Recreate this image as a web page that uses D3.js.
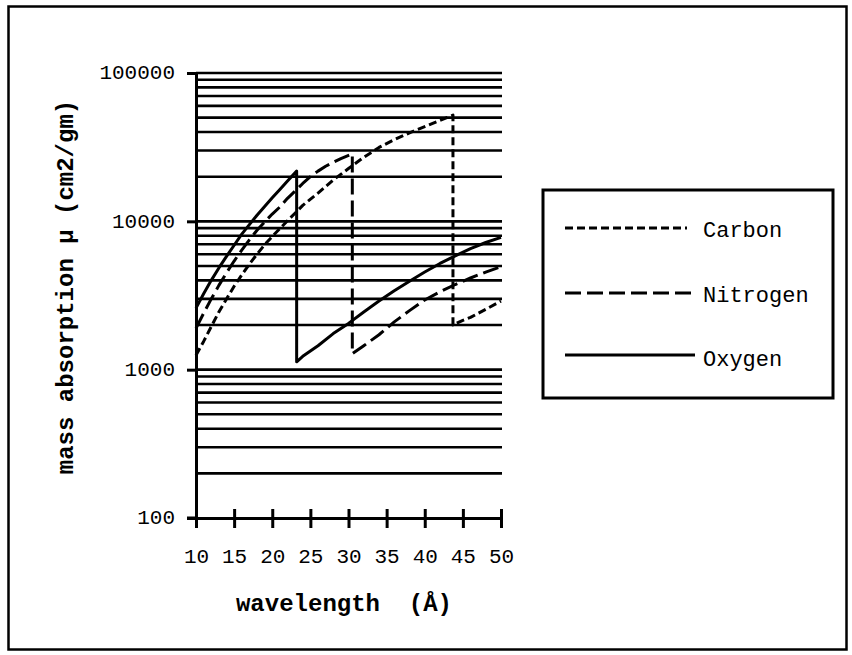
<!DOCTYPE html>
<html>
<head>
<meta charset="utf-8">
<script src="https://cdn.jsdelivr.net/npm/d3@7"></script>
<style>
  html, body { margin: 0; padding: 0; background: #fff; }
  svg { display: block; }
  text { fill: #000; }
</style>
</head>
<body>
<svg id="chart" width="852" height="655"></svg>
<script>
// ---- data ----
const wavelengthTicks = [10, 15, 20, 25, 30, 35, 40, 45, 50];
const absorptionTicks = [100, 1000, 10000, 100000];

const carbonX = [10, 11, 12, 13, 14, 15, 16, 17, 18, 19, 20, 22, 24, 26, 28, 30, 32, 34, 36, 38, 40, 42, 43.7, 43.7, 45, 46, 48, 50];
const carbonY = [1250, 1550, 1950, 2450, 3000, 3650, 4350, 5150, 6000, 6950, 7900, 10100, 12800, 15500, 19000, 22700, 27000, 31500, 35500, 39500, 43500, 48000, 52000, 2000, 2150, 2250, 2550, 2900];

const nitrogenX = [10, 11, 12, 13, 14, 15, 16, 17, 18, 19, 20, 21, 22, 23, 24, 25, 26, 27, 28, 29, 30.5, 30.5, 32, 34, 36, 38, 40, 42, 44, 46, 48, 50];
const nitrogenY = [1900, 2400, 3000, 3700, 4500, 5400, 6400, 7500, 8700, 9900, 11200, 12500, 14300, 16000, 18000, 20000, 21800, 23500, 25000, 26500, 28500, 1280, 1450, 1720, 2100, 2500, 2950, 3350, 3750, 4150, 4550, 4950];

const oxygenX = [10, 11, 12, 13, 14, 15, 16, 17, 18, 19, 20, 21, 22, 23.2, 23.2, 24, 26, 28, 30, 32, 34, 36, 38, 40, 42, 44, 46, 48, 50];
const oxygenY = [2600, 3250, 4000, 4850, 5800, 6900, 8200, 9500, 11000, 12600, 14400, 16400, 18700, 21800, 1130, 1230, 1450, 1750, 2050, 2450, 2900, 3400, 3950, 4550, 5200, 5850, 6550, 7200, 7800];

const seriesNames = ["Carbon", "Nitrogen", "Oxygen"];
const seriesDash = ["8,4", "16,6", null];

const xTitle = "wavelength  (Å)";
const yTitle = "mass absorption μ (cm2/gm)";

// ---- chart ----
const svg = d3.select("#chart");
const mono = "'Liberation Mono', 'Courier New', monospace";

// outer frame
svg.append("rect")
  .attr("x", 8.5).attr("y", 6.5).attr("width", 838).attr("height", 643)
  .attr("fill", "#fff").attr("stroke", "#000").attr("stroke-width", 2.5);

const x = d3.scaleLinear().domain([10, 50]).range([196, 501]);
const y = d3.scaleLog().domain([100, 100000]).range([518, 73]);

// gridlines (1..9 per decade)
svg.append("g").selectAll("line")
  .data(y.ticks().filter(v => v > 100))
  .join("line")
  .attr("x1", x(10)).attr("x2", x(50) + 1)
  .attr("y1", d => y(d)).attr("y2", d => y(d))
  .attr("stroke", "#000").attr("stroke-width", 2.6);

// y axis
const yAxis = svg.append("g")
  .attr("transform", `translate(${x(10)},0)`)
  .call(d3.axisLeft(y).tickValues(absorptionTicks).tickFormat(d3.format("d"))
    .tickSize(9).tickSizeOuter(0).tickPadding(12));
yAxis.select(".domain").attr("stroke", "#000").attr("stroke-width", 3);
yAxis.selectAll(".tick line").attr("stroke", "#000").attr("stroke-width", 3);
yAxis.selectAll(".tick text")
  .attr("font-family", mono).attr("font-size", 21).attr("dy", "0.27em").attr("fill", "#000");

// x axis
const xAxis = svg.append("g")
  .attr("transform", `translate(0,${y(100)})`)
  .call(d3.axisBottom(x).tickValues(wavelengthTicks).tickFormat(d3.format("d"))
    .tickSize(10).tickSizeOuter(0).tickPadding(20));
xAxis.select(".domain").attr("stroke", "#000").attr("stroke-width", 3);
xAxis.selectAll(".tick line").attr("y1", -9).attr("stroke", "#000").attr("stroke-width", 3);
xAxis.selectAll(".tick text")
  .attr("font-family", mono).attr("font-size", 21).attr("fill", "#000");
// small extension of axis line to the left (reference shows the axis start under the 100 tick)
svg.append("line")
  .attr("x1", x(10) - 9).attr("x2", x(10))
  .attr("y1", y(100)).attr("y2", y(100))
  .attr("stroke", "#000").attr("stroke-width", 3);

// series
const series = [
  { name: seriesNames[0], xs: carbonX, ys: carbonY, dash: seriesDash[0] },
  { name: seriesNames[1], xs: nitrogenX, ys: nitrogenY, dash: seriesDash[1] },
  { name: seriesNames[2], xs: oxygenX, ys: oxygenY, dash: seriesDash[2] }
];
const line = d3.line().x(d => x(d[0])).y(d => y(d[1]));
svg.append("g").selectAll("path")
  .data(series)
  .join("path")
  .attr("d", s => line(s.xs.map((v, i) => [v, s.ys[i]])))
  .attr("fill", "none")
  .attr("stroke", "#000")
  .attr("stroke-width", 3)
  .attr("stroke-linejoin", "round")
  .attr("stroke-dasharray", s => s.dash);

// axis titles
svg.append("text")
  .attr("x", 344).attr("y", 611)
  .attr("text-anchor", "middle")
  .attr("font-family", mono).attr("font-weight", "bold").attr("font-size", 24)
  .style("white-space", "pre")
  .text(xTitle);

svg.append("text")
  .attr("transform", "translate(73,287) rotate(-90)")
  .attr("text-anchor", "middle")
  .attr("font-family", mono).attr("font-weight", "bold").attr("font-size", 24)
  .style("white-space", "pre")
  .text(yTitle);

// legend
const lg = svg.append("g");
lg.append("rect")
  .attr("x", 543).attr("y", 190).attr("width", 290).attr("height", 208)
  .attr("fill", "#fff").attr("stroke", "#000").attr("stroke-width", 3);
const legendRows = [
  { y: 228, x2: 687, base: 237 },
  { y: 293, x2: 695, base: 302 },
  { y: 355, x2: 695, base: 366 }
];
series.forEach((s, i) => {
  const r = legendRows[i];
  lg.append("line")
    .attr("x1", 565).attr("x2", r.x2).attr("y1", r.y).attr("y2", r.y)
    .attr("stroke", "#000").attr("stroke-width", 3)
    .attr("stroke-dasharray", s.dash);
  lg.append("text")
    .attr("x", 703).attr("y", r.base)
    .attr("font-family", mono).attr("font-size", 22)
    .text(s.name);
});
</script>
</body>
</html>
